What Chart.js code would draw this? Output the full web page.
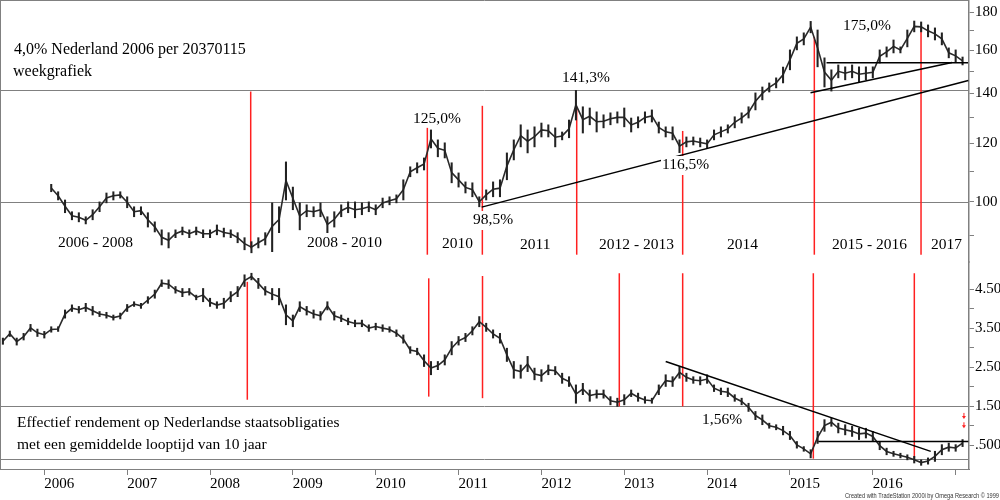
<!DOCTYPE html>
<html>
<head>
<meta charset="utf-8">
<script src="https://cdn.jsdelivr.net/npm/chart.js@4.4.1/dist/chart.umd.min.js"></script>
<style>
html, body { margin: 0; padding: 0; background: #fff; }
#wrap { position: relative; width: 1000px; height: 500px; }
</style>
</head>
<body>
<div id="wrap"><canvas id="chart" width="1000" height="500"></canvas></div>
<script>
// monthly low/high of the 4% 2037 bond, starting Feb 2006
var bondStart = 2006 + 1 / 12;
var bondLow = [103.2, 100.6, 96.7, 94.6, 94.0, 93.4, 94.6, 97.0, 99.7, 100.6, 101.2, 98.2,
    95.5, 96.1, 92.5, 91.1, 87.5, 86.7, 89.5, 90.3, 89.5, 90.3, 89.5, 89.5,
    90.3, 89.7, 89.5, 88.1, 86.2, 85.4, 86.7, 87.5, 85.7, 90.9, 100.6, 97.6,
    91.7, 95.5, 95.5, 95.5, 90.9, 92.5, 95.5, 96.7, 95.2, 96.1, 97.0, 96.1,
    98.2, 99.1, 99.7, 100.6, 108.1, 109.4, 110.4, 118.2, 115.0, 114.6, 106.1, 104.7,
    102.8, 101.6, 98.5, 100.6, 101.6, 101.6, 107.1, 113.9, 118.6, 116.4, 118.6, 122.3,
    122.3, 118.6, 121.2, 122.0, 128.9, 123.8, 127.0, 124.2, 125.8, 127.0, 127.7, 126.2,
    124.2, 125.8, 127.7, 128.1, 123.8, 122.3, 121.2, 116.5, 118.6, 119.3, 118.6, 118.2,
    121.2, 122.3, 123.8, 125.8, 127.7, 129.7, 133.0, 137.2, 140.6, 142.4, 144.6, 150.6,
    160.2, 162.7, 168.9, 152.0, 142.8, 141.0, 146.9, 146.0, 146.9, 145.1, 146.0, 146.9,
    153.8, 156.7, 158.7, 158.7, 161.7, 169.4, 169.4, 166.8, 165.2, 162.7, 156.3, 154.3,
    152.9];
var bondHigh = [105.6, 103.2, 100.6, 97.0, 96.7, 95.5, 97.6, 100.0, 102.8, 103.2, 103.2, 101.6,
    98.5, 98.5, 96.7, 94.0, 91.7, 90.9, 91.7, 92.5, 91.7, 92.5, 91.7, 91.7,
    93.1, 92.2, 91.7, 90.9, 89.5, 88.4, 89.5, 90.9, 99.7, 98.5, 113.2, 104.7,
    99.7, 99.1, 98.5, 99.7, 95.5, 97.0, 99.1, 100.0, 100.0, 99.7, 100.0, 99.1,
    101.2, 101.6, 102.2, 107.1, 111.5, 112.9, 114.6, 125.0, 121.2, 120.1, 112.9, 109.4,
    106.4, 106.1, 101.6, 103.8, 106.4, 107.1, 116.4, 121.2, 127.0, 125.0, 126.2, 127.7,
    127.0, 125.8, 124.2, 128.9, 141.3, 134.3, 133.8, 132.2, 131.0, 131.8, 132.2, 133.8,
    129.7, 130.2, 132.2, 133.0, 128.1, 126.2, 126.2, 121.2, 122.3, 122.3, 121.9, 121.2,
    125.0, 126.2, 127.0, 130.2, 131.8, 134.3, 140.2, 142.8, 144.6, 146.9, 151.9, 160.2,
    166.8, 168.9, 175.0, 170.4, 156.3, 150.6, 152.9, 152.0, 152.9, 152.0, 152.0, 152.0,
    160.2, 161.7, 165.2, 161.7, 170.4, 175.2, 174.7, 173.1, 171.5, 168.9, 161.2, 160.2,
    156.7];

// monthly low/high of the 10-year Dutch government bond yield, starting Jul 2005
var yieldStart = 2006 - 6 / 12;
var yieldLow = [3.09, 3.29, 3.07, 3.20, 3.42, 3.29, 3.25,
    3.40, 3.42, 3.76, 3.93, 3.89, 3.93, 3.84, 3.80, 3.76, 3.71, 3.74, 3.93,
    4.06, 4.01, 4.14, 4.27, 4.57, 4.52, 4.40, 4.31, 4.35, 4.23, 4.18, 4.06,
    4.01, 4.01, 4.18, 4.31, 4.57, 4.74, 4.52, 4.35, 4.23, 4.10, 3.59, 3.54,
    3.93, 3.84, 3.76, 3.71, 3.97, 3.71, 3.67, 3.59, 3.54, 3.54, 3.42, 3.46,
    3.42, 3.40, 3.29, 3.12, 2.86, 2.82, 2.52, 2.31, 2.44, 2.56, 2.82, 3.07,
    3.16, 3.33, 3.54, 3.42, 3.25, 3.12, 2.65, 2.22, 2.22, 2.39, 2.18, 2.14,
    2.31, 2.31, 2.09, 2.01, 1.58, 1.80, 1.63, 1.71, 1.71, 1.54, 1.50, 1.54,
    1.75, 1.63, 1.58, 1.58, 1.80, 2.01, 2.01, 2.22, 2.14, 2.09, 2.05, 2.09,
    1.88, 1.80, 1.75, 1.63, 1.54, 1.37, 1.16, 1.03, 0.94, 0.90, 0.77, 0.65,
    0.43, 0.35, 0.18, 0.55, 0.86, 0.99, 0.82, 0.77, 0.73, 0.65, 0.69, 0.60,
    0.39, 0.26, 0.22, 0.18, 0.13, 0.05, -0.01, 0.02, 0.09, 0.26, 0.35, 0.35,
    0.47];
var yieldHigh = [3.25, 3.43, 3.25, 3.37, 3.60, 3.48, 3.42,
    3.54, 3.54, 3.97, 4.10, 4.06, 4.14, 4.06, 3.93, 3.91, 3.84, 3.89, 4.11,
    4.18, 4.14, 4.31, 4.48, 4.74, 4.74, 4.57, 4.52, 4.52, 4.35, 4.52, 4.27,
    4.18, 4.27, 4.44, 4.57, 4.87, 4.91, 4.78, 4.57, 4.52, 4.52, 4.10, 3.84,
    4.18, 4.06, 3.97, 3.93, 4.18, 3.93, 3.84, 3.76, 3.71, 3.71, 3.59, 3.63,
    3.59, 3.54, 3.46, 3.33, 3.03, 2.99, 2.82, 2.65, 2.65, 2.82, 3.16, 3.29,
    3.37, 3.54, 3.80, 3.63, 3.46, 3.37, 2.99, 2.65, 2.56, 2.78, 2.48, 2.44,
    2.56, 2.52, 2.35, 2.26, 2.05, 2.09, 1.92, 1.92, 1.92, 1.75, 1.71, 1.80,
    1.92, 1.84, 1.75, 1.71, 2.05, 2.31, 2.26, 2.52, 2.35, 2.26, 2.26, 2.31,
    2.05, 1.97, 1.97, 1.80, 1.71, 1.58, 1.37, 1.28, 1.07, 1.03, 0.99, 0.86,
    0.60, 0.47, 0.39, 0.86, 1.16, 1.20, 1.07, 1.03, 0.99, 0.94, 0.94, 0.86,
    0.60, 0.43, 0.35, 0.30, 0.26, 0.22, 0.13, 0.18, 0.35, 0.52, 0.56, 0.52,
    0.65];

var years = [2006, 2007, 2008, 2009, 2010, 2011, 2012, 2013, 2014, 2015, 2016, 2017];
var priceTicks = [90, 100, 110, 120, 130, 140, 150, 160, 170, 180];
var priceLabels = [100, 120, 140, 160, 180];
var yieldTicks = [0.5, 1, 1.5, 2, 2.5, 3, 3.5, 4, 4.5];
var yieldLabels = { 0.5: '.500', 1.5: '1.50', 2.5: '2.50', 3.5: '3.50', 4.5: '4.50' };

// reference levels, trend lines and turning points (year, value)
var priceLevels = [141.3, 100];
var yieldLevels = [1.5, 0.16];
var redTop = [[2008.491, 140.8, 86.6], [2010.623, 125.8, 84.9], [2011.287, 134.7, 84.9],
    [2012.426, 134.3, 84.9], [2013.705, 124.6, 84.9], [2015.294, 166.8, 84.9], [2016.582, 172.0, 84.9]];
var redBottom = [[2008.450, 4.69, 1.67], [2010.640, 4.78, 1.75], [2011.289, 4.84, 1.71],
    [2012.940, 4.91, 1.5], [2013.705, 4.91, 1.5], [2015.282, 4.91, 0.16], [2016.501, 4.91, 0.16]];
var trendTop = [[2011.279, 98.4, 2017.153, 145.7], [2015.248, 140.3, 2016.956, 154.1], [2015.441, 154.0, 2017.149, 154.0]];
var trendBottom = [[2013.50, 2.648, 2016.699, 0.347], [2015.342, 0.602, 2017.153, 0.602]];
var markers = [1.23, 0.99];

var serif = '"Liberation Serif", "Times New Roman", serif';

function series(start, lo, hi) {
    var bars = [], mid = [];
    for (var i = 0; i < lo.length; i++) {
        var t = start + i / 12;
        bars.push({ x: t, y: [lo[i], hi[i]] });
        mid.push({ x: t, y: (lo[i] + hi[i]) / 2 });
    }
    return { bars: bars, mid: mid };
}
var bond = series(bondStart, bondLow, bondHigh);
var yld = series(yieldStart, yieldLow, yieldHigh);

function line(ctx, x1, y1, x2, y2, color, w) {
    ctx.beginPath();
    ctx.strokeStyle = color;
    ctx.lineWidth = w;
    ctx.moveTo(x1, y1);
    ctx.lineTo(x2, y2);
    ctx.stroke();
}

function label(ctx, text, x, y, size, bg) {
    ctx.font = size + 'px ' + serif;
    ctx.textBaseline = 'middle';
    ctx.textAlign = 'left';
    if (bg) {
        var w = ctx.measureText(text).width;
        ctx.fillStyle = '#fff';
        ctx.fillRect(x - 1, y - 9, w + 2, 19);
    }
    ctx.fillStyle = '#000';
    ctx.fillText(text, x, y);
}

function noPadding(scale) {
    scale.paddingTop = 0;
    scale.paddingBottom = 0;
    scale.paddingLeft = 0;
    scale.paddingRight = 0;
}

var annotations = {
    id: 'annotations',
    beforeDatasetsDraw: function(chart) {
        var ctx = chart.ctx, a = chart.chartArea;
        var x = chart.scales.x, yP = chart.scales.yP, yY = chart.scales.yY;
        ctx.save();
        priceLevels.forEach(function(v) {
            var py = Math.round(yP.getPixelForValue(v)) + 0.5;
            line(ctx, a.left, py, a.right, py, '#808080', 1);
        });
        yieldLevels.forEach(function(v) {
            var py = Math.round(yY.getPixelForValue(v)) + 0.5;
            line(ctx, a.left, py, a.right, py, '#808080', 1);
        });
        redTop.forEach(function(r) {
            var px = x.getPixelForValue(r[0]);
            line(ctx, px, yP.getPixelForValue(r[1]), px, yP.getPixelForValue(r[2]), '#ff2020', 1.5);
        });
        redBottom.forEach(function(r) {
            var px = x.getPixelForValue(r[0]);
            line(ctx, px, yY.getPixelForValue(r[1]), px, yY.getPixelForValue(r[2]), '#ff2020', 1.5);
        });
        ctx.restore();
    },
    afterDatasetsDraw: function(chart) {
        var ctx = chart.ctx, a = chart.chartArea;
        var x = chart.scales.x, yP = chart.scales.yP, yY = chart.scales.yY;
        ctx.save();
        trendTop.forEach(function(t) {
            line(ctx, x.getPixelForValue(t[0]), yP.getPixelForValue(t[1]),
                x.getPixelForValue(t[2]), yP.getPixelForValue(t[3]), '#000', 1.5);
        });
        trendBottom.forEach(function(t) {
            line(ctx, x.getPixelForValue(t[0]), yY.getPixelForValue(t[1]),
                x.getPixelForValue(t[2]), yY.getPixelForValue(t[3]), '#000', 1.5);
        });
        // red markers at the right edge
        markers.forEach(function(v) {
            var px = x.getPixelForValue(2017.10), py = yY.getPixelForValue(v);
            line(ctx, px, py - 4, px, py, '#ff2020', 1);
            ctx.fillStyle = '#ff2020';
            ctx.beginPath();
            ctx.moveTo(px - 2, py - 1);
            ctx.lineTo(px + 2, py - 1);
            ctx.lineTo(px, py + 2);
            ctx.fill();
        });

        // frame
        line(ctx, 0.5, 0, 0.5, a.bottom, '#808080', 1);
        line(ctx, 0, 0.5, a.right, 0.5, '#808080', 1);

        label(ctx, '4,0% Nederland 2006 per 20370115', 14, 50, 16);
        label(ctx, 'weekgrafiek', 13, 72, 16);
        label(ctx, '2006 - 2008', 58, 243, 15.5);
        label(ctx, '2008 - 2010', 307, 243, 15.5);
        label(ctx, '2010', 442, 244, 15.5);
        label(ctx, '125,0%', 413, 119, 15.5);
        label(ctx, '98,5%', 473, 220, 15.5, true);
        label(ctx, '2011', 520, 245, 15.5);
        label(ctx, '141,3%', 562, 78, 15.5);
        label(ctx, '2012 - 2013', 599, 245, 15.5);
        label(ctx, '116,5%', 662, 165, 15.5, true);
        label(ctx, '2014', 727, 245, 15.5);
        label(ctx, '175,0%', 843, 26, 15.5);
        label(ctx, '2015 - 2016', 832, 245, 15.5);
        label(ctx, '2017', 931, 245, 15.5);
        label(ctx, 'Effectief rendement op Nederlandse staatsobligaties', 17, 423, 15.5);
        label(ctx, 'met een gemiddelde looptijd van 10 jaar', 17, 445, 15.5);
        label(ctx, '1,56%', 702, 420, 15.5);

        // credit line
        var credit = 'Created with TradeStation 2000i by Omega Research \u00a9 1999';
        ctx.font = '7px "Liberation Sans", Arial, sans-serif';
        ctx.textBaseline = 'middle';
        ctx.textAlign = 'left';
        var cw = ctx.measureText(credit).width;
        ctx.translate(845, 496);
        ctx.scale(154 / cw, 1);
        ctx.fillStyle = '#333';
        ctx.fillText(credit, 0, 0);
        ctx.restore();
    }
};

var ctx = document.getElementById('chart').getContext('2d');

var chart = new Chart(ctx, {
    type: 'bar',
    data: {
        datasets: [
            { type: 'bar', data: bond.bars, yAxisID: 'yP', backgroundColor: '#222', barThickness: 1.4, grouped: false },
            { type: 'line', data: bond.mid, yAxisID: 'yP', borderColor: '#2a2a2a', borderWidth: 1.6, pointRadius: 0, tension: 0 },
            { type: 'bar', data: yld.bars, yAxisID: 'yY', backgroundColor: '#222', barThickness: 1.4, grouped: false },
            { type: 'line', data: yld.mid, yAxisID: 'yY', borderColor: '#2a2a2a', borderWidth: 1.6, pointRadius: 0, tension: 0 }
        ]
    },
    options: {
        responsive: false,
        animation: false,
        devicePixelRatio: 1,
        events: [],
        layout: { padding: 0 },
        plugins: {
            legend: { display: false },
            tooltip: { enabled: false }
        },
        scales: {
            x: {
                type: 'linear',
                position: 'bottom',
                min: 2005.465,
                max: 2017.161,
                offset: false,
                grid: { drawOnChartArea: false, drawTicks: true, tickLength: 6, color: '#808080', offset: false },
                border: { color: '#808080', width: 1 },
                afterBuildTicks: function(scale) {
                    scale.ticks = years.map(function(v) { return { value: v }; });
                },
                afterFit: function(scale) { scale.height = 31; noPadding(scale); },
                ticks: {
                    autoSkip: false,
                    maxRotation: 0,
                    align: 'start',
                    padding: 0,
                    color: '#000',
                    font: { family: serif, size: 15 },
                    callback: function(v) { return v <= 2016 ? String(v) : ''; }
                }
            },
            yP: {
                type: 'logarithmic',
                position: 'right',
                stack: 'panels',
                stackWeight: 262,
                min: 83,
                max: 187,
                grid: { drawOnChartArea: false, drawTicks: true, tickLength: 5, color: '#808080' },
                border: { color: '#808080', width: 1.5 },
                afterBuildTicks: function(scale) {
                    scale.ticks = priceTicks.map(function(v) { return { value: v }; });
                },
                afterFit: function(scale) { scale.width = 31; noPadding(scale); },
                ticks: {
                    autoSkip: false,
                    padding: 1,
                    color: '#000',
                    font: { family: serif, size: 15 },
                    callback: function(v) { return priceLabels.indexOf(v) >= 0 ? String(v) : ''; }
                }
            },
            yY: {
                type: 'linear',
                position: 'right',
                stack: 'panels',
                stackWeight: 207,
                min: -0.104,
                max: 5.198,
                grid: { drawOnChartArea: false, drawTicks: true, tickLength: 5, color: '#808080' },
                border: { color: '#808080', width: 1.5 },
                afterBuildTicks: function(scale) {
                    scale.ticks = yieldTicks.map(function(v) { return { value: v }; });
                },
                afterFit: function(scale) { scale.width = 31; noPadding(scale); },
                ticks: {
                    autoSkip: false,
                    padding: 1,
                    color: '#000',
                    font: { family: serif, size: 15 },
                    callback: function(v) { return yieldLabels[v] || ''; }
                }
            }
        }
    },
    plugins: [annotations]
});
</script>
</body>
</html>
